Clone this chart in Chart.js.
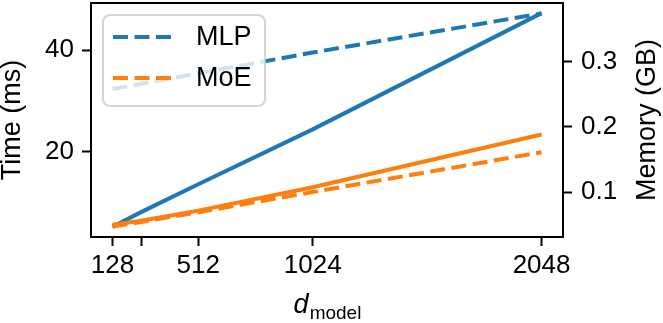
<!DOCTYPE html>
<html>
<head>
<meta charset="utf-8">
<script src="https://cdn.jsdelivr.net/npm/chart.js@4/dist/chart.umd.min.js"></script>
<style>
  html, body { margin: 0; padding: 0; background: #fff; }
</style>
</head>
<body>
<canvas id="c" width="663" height="323"></canvas>
<script>
/* d_model sweep: time (left axis, solid) and memory (right axis, dashed) */

const dModel = [128, 256, 512, 1024, 2048];
const xTicks = [128, 256, 512, 1024, 2048];
const xLabels = ["128", "", "512", "1024", "2048"];
const timeTicks = [20, 40];
const memTicks = [0.1, 0.2, 0.3];

const mlpTime = [5.2, 8.1, 13.6, 24.4, 47.3];
const moeTime = [5.6, 6.4, 8.4, 13.0, 23.4];
const mlpMem = [0.258, 0.266, 0.282, 0.314, 0.374];
const moeMem = [0.047, 0.054, 0.069, 0.100, 0.161];

const BLUE = "#1f77b4";
const ORANGE = "#ff7f0e";
const FONT = "'Liberation Sans', Arial, sans-serif";
const DASH = [15, 6.5];
const LW = 4;

const pts = (ys) => ys.map((y, i) => ({ x: dModel[i], y }));

// fixed box sizes so the plot area lands where the reference has it
function fit(size) {
  return (s) => {
    if (s.isHorizontal()) s.height = size;
    else s.width = size;
    s.paddingTop = s.paddingBottom = s.paddingLeft = s.paddingRight = 0;
  };
}

// box around the plot, axis titles and the in-plot legend
const decor = {
  id: "decor",
  afterDatasetsDraw(chart) {
    const { ctx, chartArea: a } = chart;
    ctx.save();
    ctx.strokeStyle = "#000";
    ctx.lineWidth = 2;
    ctx.strokeRect(a.left, a.top, a.right - a.left, a.bottom - a.top);

    // legend (semi transparent frame like matplotlib)
    const lx = 103, ly = 15, lw = 162, lh = 91;
    ctx.beginPath();
    ctx.roundRect(lx, ly, lw, lh, 7);
    ctx.fillStyle = "rgba(255,255,255,0.8)";
    ctx.fill();
    ctx.strokeStyle = "rgba(204,204,204,0.8)";
    ctx.lineWidth = 2;
    ctx.stroke();
    const items = [["MLP", BLUE, 37], ["MoE", ORANGE, 78]];
    ctx.lineWidth = LW;
    ctx.setLineDash(DASH);
    ctx.font = `27px ${FONT}`;
    ctx.textBaseline = "middle";
    for (const [name, col, y] of items) {
      ctx.strokeStyle = col;
      ctx.beginPath();
      ctx.moveTo(113, y);
      ctx.lineTo(176, y);
      ctx.stroke();
      ctx.fillStyle = "#000";
      ctx.fillText(name, 196, y + 1);
    }
    ctx.setLineDash([]);

    // axis titles
    const midY = (a.top + a.bottom) / 2;
    ctx.fillStyle = "#000";
    ctx.font = `27px ${FONT}`;
    ctx.textAlign = "center";
    ctx.textBaseline = "middle";
    ctx.save();
    ctx.translate(13, midY);
    ctx.rotate(-Math.PI / 2);
    ctx.fillText("Time (ms)", 0, 0);
    ctx.restore();
    ctx.save();
    ctx.translate(648, midY);
    ctx.rotate(-Math.PI / 2);
    ctx.fillText("Memory (GB)", 0, 0);
    ctx.restore();

    // x title: italic d with subscript "model"
    ctx.textAlign = "left";
    ctx.textBaseline = "alphabetic";
    ctx.font = `italic 27px ${FONT}`;
    const dW = ctx.measureText("d").width;
    ctx.font = `19px ${FONT}`;
    const sW = ctx.measureText("model").width;
    const x0 = (a.left + a.right) / 2 - (dW + sW) / 2;
    ctx.font = `italic 27px ${FONT}`;
    ctx.fillText("d", x0, 313);
    ctx.font = `19px ${FONT}`;
    ctx.fillText("model", x0 + dW + 1, 319);
    ctx.restore();
  },
};

const tickFont = { family: FONT, size: 26 };
const tickGrid = { display: true, drawOnChartArea: false, drawTicks: true, tickLength: 9, tickWidth: 2, color: "#000" };

new Chart(document.getElementById("c"), {
  type: "line",
  data: {
    datasets: [
      { label: "MLP time", data: pts(mlpTime), yAxisID: "yT", borderColor: BLUE, borderWidth: LW, order: 4 },
      { label: "MoE time", data: pts(moeTime), yAxisID: "yT", borderColor: ORANGE, borderWidth: LW, order: 3 },
      { label: "MLP", data: pts(mlpMem), yAxisID: "yM", borderColor: BLUE, borderWidth: LW, borderDash: DASH, order: 2 },
      { label: "MoE", data: pts(moeMem), yAxisID: "yM", borderColor: ORANGE, borderWidth: LW, borderDash: DASH, order: 1 },
    ],
  },
  options: {
    responsive: false,
    animation: false,
    devicePixelRatio: 1,
    layout: { padding: { top: 3, left: 0, right: 0, bottom: 0 } },
    elements: { point: { radius: 0 }, line: { tension: 0, borderCapStyle: "butt" } },
    plugins: { legend: { display: false }, tooltip: { enabled: false } },
    scales: {
      x: {
        type: "linear",
        min: 32,
        max: 2144,
        afterBuildTicks: (s) => { s.ticks = xTicks.map((v) => ({ value: v })); },
        afterFit: fit(86),
        ticks: {
          font: tickFont, color: "#000", padding: 4, maxRotation: 0, autoSkip: false,
          callback: (v) => xLabels[xTicks.indexOf(v)] ?? "",
        },
        grid: tickGrid,
        border: { display: false },
      },
      yT: {
        type: "linear",
        position: "left",
        min: 3.2,
        max: 49.3,
        afterBuildTicks: (s) => { s.ticks = timeTicks.map((v) => ({ value: v })); },
        afterFit: fit(91),
        ticks: { font: tickFont, color: "#000", padding: 8 },
        grid: tickGrid,
        border: { display: false },
      },
      yM: {
        type: "linear",
        position: "right",
        min: 0.031,
        max: 0.39,
        afterBuildTicks: (s) => { s.ticks = memTicks.map((v) => ({ value: v })); },
        afterFit: fit(100),
        ticks: { font: tickFont, color: "#000", padding: 9, callback: (v) => v.toFixed(1) },
        grid: tickGrid,
        border: { display: false },
      },
    },
  },
  plugins: [decor],
});
</script>
</body>
</html>
